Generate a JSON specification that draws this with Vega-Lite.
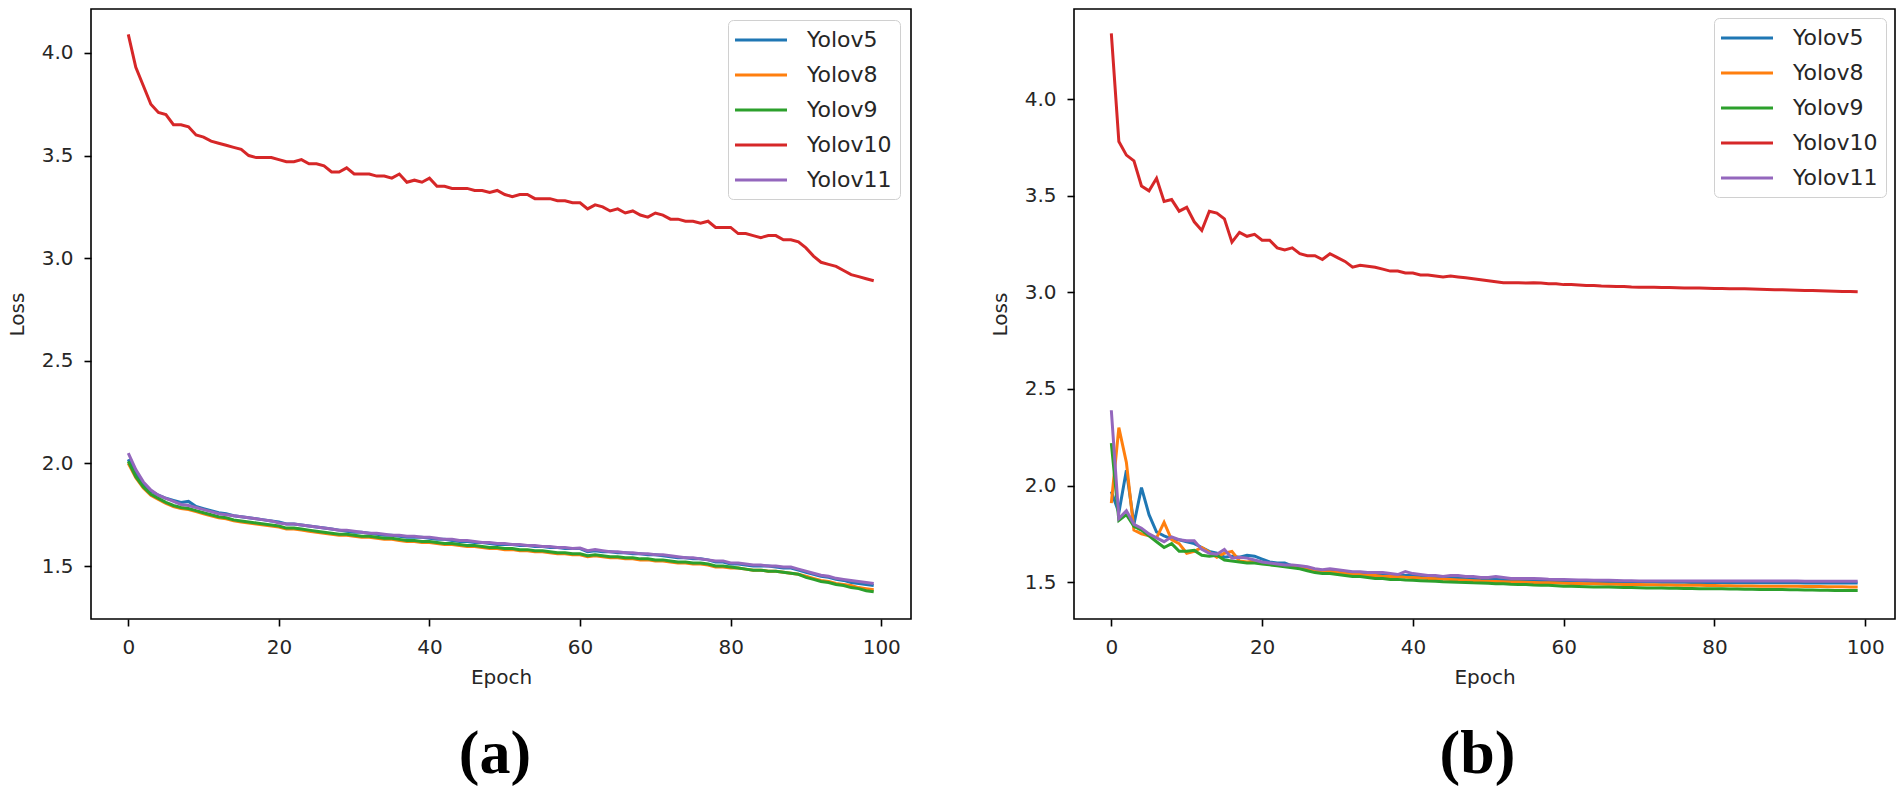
{
"$schema": "https://vega.github.io/schema/vega-lite/v6.json",
"background": "white",
"padding": {"left": 6, "top": 8, "right": 5, "bottom": 5},
"config": {
  "font": "DejaVu Sans",
  "view": {"stroke": "#000", "strokeWidth": 1.6},
  "axis": {"grid": false, "domain": false, "tickColor": "#000", "tickWidth": 1.6, "tickSize": 7, "labelFont": "DejaVu Sans", "labelFontSize": 20, "labelColor": "#262626", "labelPadding": 11, "titleFont": "DejaVu Sans", "titleFontSize": 20, "titleFontWeight": "normal", "titleColor": "#262626"},
  "legend": {"symbolType": "M-1.3,0H3.9", "symbolSize": 400, "symbolStrokeWidth": 3.2, "labelFont": "DejaVu Sans", "labelFontSize": 22, "labelColor": "#262626", "labelOffset": 47, "rowPadding": 12, "padding": 8, "strokeColor": "#d0d0d0", "fillColor": "white", "cornerRadius": 5, "labelLimit": 300}
},
"spacing": 77,
"resolve": {"scale": {"color": "independent"}, "legend": {"color": "independent"}},
"datasets": {
"a": [
{"m":"Yolov5","e":0,"v":2.02},{"m":"Yolov5","e":1,"v":1.95},{"m":"Yolov5","e":2,"v":1.9},{"m":"Yolov5","e":3,"v":1.865},{"m":"Yolov5","e":4,"v":1.845},{"m":"Yolov5","e":5,"v":1.83},{"m":"Yolov5","e":6,"v":1.82},{"m":"Yolov5","e":7,"v":1.81},{"m":"Yolov5","e":8,"v":1.815},{"m":"Yolov5","e":9,"v":1.79},
{"m":"Yolov5","e":10,"v":1.78},{"m":"Yolov5","e":11,"v":1.77},{"m":"Yolov5","e":12,"v":1.76},{"m":"Yolov5","e":13,"v":1.755},{"m":"Yolov5","e":14,"v":1.745},{"m":"Yolov5","e":15,"v":1.74},{"m":"Yolov5","e":16,"v":1.735},{"m":"Yolov5","e":17,"v":1.73},{"m":"Yolov5","e":18,"v":1.725},{"m":"Yolov5","e":19,"v":1.72},
{"m":"Yolov5","e":20,"v":1.715},{"m":"Yolov5","e":21,"v":1.705},{"m":"Yolov5","e":22,"v":1.705},{"m":"Yolov5","e":23,"v":1.7},{"m":"Yolov5","e":24,"v":1.695},{"m":"Yolov5","e":25,"v":1.69},{"m":"Yolov5","e":26,"v":1.685},{"m":"Yolov5","e":27,"v":1.68},{"m":"Yolov5","e":28,"v":1.675},{"m":"Yolov5","e":29,"v":1.67},
{"m":"Yolov5","e":30,"v":1.665},{"m":"Yolov5","e":31,"v":1.665},{"m":"Yolov5","e":32,"v":1.66},{"m":"Yolov5","e":33,"v":1.655},{"m":"Yolov5","e":34,"v":1.65},{"m":"Yolov5","e":35,"v":1.65},{"m":"Yolov5","e":36,"v":1.645},{"m":"Yolov5","e":37,"v":1.64},{"m":"Yolov5","e":38,"v":1.64},{"m":"Yolov5","e":39,"v":1.64},
{"m":"Yolov5","e":40,"v":1.635},{"m":"Yolov5","e":41,"v":1.63},{"m":"Yolov5","e":42,"v":1.63},{"m":"Yolov5","e":43,"v":1.625},{"m":"Yolov5","e":44,"v":1.62},{"m":"Yolov5","e":45,"v":1.62},{"m":"Yolov5","e":46,"v":1.615},{"m":"Yolov5","e":47,"v":1.615},{"m":"Yolov5","e":48,"v":1.61},{"m":"Yolov5","e":49,"v":1.605},
{"m":"Yolov5","e":50,"v":1.605},{"m":"Yolov5","e":51,"v":1.605},{"m":"Yolov5","e":52,"v":1.6},{"m":"Yolov5","e":53,"v":1.6},{"m":"Yolov5","e":54,"v":1.595},{"m":"Yolov5","e":55,"v":1.595},{"m":"Yolov5","e":56,"v":1.59},{"m":"Yolov5","e":57,"v":1.59},{"m":"Yolov5","e":58,"v":1.585},{"m":"Yolov5","e":59,"v":1.585},
{"m":"Yolov5","e":60,"v":1.585},{"m":"Yolov5","e":61,"v":1.57},{"m":"Yolov5","e":62,"v":1.575},{"m":"Yolov5","e":63,"v":1.57},{"m":"Yolov5","e":64,"v":1.57},{"m":"Yolov5","e":65,"v":1.565},{"m":"Yolov5","e":66,"v":1.565},{"m":"Yolov5","e":67,"v":1.56},{"m":"Yolov5","e":68,"v":1.56},{"m":"Yolov5","e":69,"v":1.555},
{"m":"Yolov5","e":70,"v":1.555},{"m":"Yolov5","e":71,"v":1.55},{"m":"Yolov5","e":72,"v":1.545},{"m":"Yolov5","e":73,"v":1.54},{"m":"Yolov5","e":74,"v":1.54},{"m":"Yolov5","e":75,"v":1.535},{"m":"Yolov5","e":76,"v":1.535},{"m":"Yolov5","e":77,"v":1.53},{"m":"Yolov5","e":78,"v":1.52},{"m":"Yolov5","e":79,"v":1.52},
{"m":"Yolov5","e":80,"v":1.51},{"m":"Yolov5","e":81,"v":1.51},{"m":"Yolov5","e":82,"v":1.505},{"m":"Yolov5","e":83,"v":1.5},{"m":"Yolov5","e":84,"v":1.5},{"m":"Yolov5","e":85,"v":1.5},{"m":"Yolov5","e":86,"v":1.495},{"m":"Yolov5","e":87,"v":1.49},{"m":"Yolov5","e":88,"v":1.49},{"m":"Yolov5","e":89,"v":1.48},
{"m":"Yolov5","e":90,"v":1.47},{"m":"Yolov5","e":91,"v":1.46},{"m":"Yolov5","e":92,"v":1.45},{"m":"Yolov5","e":93,"v":1.445},{"m":"Yolov5","e":94,"v":1.435},{"m":"Yolov5","e":95,"v":1.43},{"m":"Yolov5","e":96,"v":1.42},{"m":"Yolov5","e":97,"v":1.415},{"m":"Yolov5","e":98,"v":1.41},{"m":"Yolov5","e":99,"v":1.405},
{"m":"Yolov8","e":0,"v":2.0},{"m":"Yolov8","e":1,"v":1.93},{"m":"Yolov8","e":2,"v":1.88},{"m":"Yolov8","e":3,"v":1.845},{"m":"Yolov8","e":4,"v":1.825},{"m":"Yolov8","e":5,"v":1.805},{"m":"Yolov8","e":6,"v":1.79},{"m":"Yolov8","e":7,"v":1.78},{"m":"Yolov8","e":8,"v":1.775},{"m":"Yolov8","e":9,"v":1.765},
{"m":"Yolov8","e":10,"v":1.755},{"m":"Yolov8","e":11,"v":1.745},{"m":"Yolov8","e":12,"v":1.735},{"m":"Yolov8","e":13,"v":1.73},{"m":"Yolov8","e":14,"v":1.72},{"m":"Yolov8","e":15,"v":1.715},{"m":"Yolov8","e":16,"v":1.71},{"m":"Yolov8","e":17,"v":1.705},{"m":"Yolov8","e":18,"v":1.7},{"m":"Yolov8","e":19,"v":1.695},
{"m":"Yolov8","e":20,"v":1.69},{"m":"Yolov8","e":21,"v":1.68},{"m":"Yolov8","e":22,"v":1.68},{"m":"Yolov8","e":23,"v":1.675},{"m":"Yolov8","e":24,"v":1.67},{"m":"Yolov8","e":25,"v":1.665},{"m":"Yolov8","e":26,"v":1.66},{"m":"Yolov8","e":27,"v":1.655},{"m":"Yolov8","e":28,"v":1.65},{"m":"Yolov8","e":29,"v":1.65},
{"m":"Yolov8","e":30,"v":1.645},{"m":"Yolov8","e":31,"v":1.64},{"m":"Yolov8","e":32,"v":1.64},{"m":"Yolov8","e":33,"v":1.635},{"m":"Yolov8","e":34,"v":1.63},{"m":"Yolov8","e":35,"v":1.63},{"m":"Yolov8","e":36,"v":1.625},{"m":"Yolov8","e":37,"v":1.62},{"m":"Yolov8","e":38,"v":1.62},{"m":"Yolov8","e":39,"v":1.615},
{"m":"Yolov8","e":40,"v":1.615},{"m":"Yolov8","e":41,"v":1.61},{"m":"Yolov8","e":42,"v":1.605},{"m":"Yolov8","e":43,"v":1.605},{"m":"Yolov8","e":44,"v":1.6},{"m":"Yolov8","e":45,"v":1.595},{"m":"Yolov8","e":46,"v":1.595},{"m":"Yolov8","e":47,"v":1.59},{"m":"Yolov8","e":48,"v":1.585},{"m":"Yolov8","e":49,"v":1.585},
{"m":"Yolov8","e":50,"v":1.58},{"m":"Yolov8","e":51,"v":1.58},{"m":"Yolov8","e":52,"v":1.575},{"m":"Yolov8","e":53,"v":1.575},{"m":"Yolov8","e":54,"v":1.57},{"m":"Yolov8","e":55,"v":1.57},{"m":"Yolov8","e":56,"v":1.565},{"m":"Yolov8","e":57,"v":1.56},{"m":"Yolov8","e":58,"v":1.56},{"m":"Yolov8","e":59,"v":1.555},
{"m":"Yolov8","e":60,"v":1.555},{"m":"Yolov8","e":61,"v":1.545},{"m":"Yolov8","e":62,"v":1.55},{"m":"Yolov8","e":63,"v":1.545},{"m":"Yolov8","e":64,"v":1.54},{"m":"Yolov8","e":65,"v":1.54},{"m":"Yolov8","e":66,"v":1.535},{"m":"Yolov8","e":67,"v":1.535},{"m":"Yolov8","e":68,"v":1.53},{"m":"Yolov8","e":69,"v":1.53},
{"m":"Yolov8","e":70,"v":1.525},{"m":"Yolov8","e":71,"v":1.525},{"m":"Yolov8","e":72,"v":1.52},{"m":"Yolov8","e":73,"v":1.515},{"m":"Yolov8","e":74,"v":1.515},{"m":"Yolov8","e":75,"v":1.51},{"m":"Yolov8","e":76,"v":1.51},{"m":"Yolov8","e":77,"v":1.505},{"m":"Yolov8","e":78,"v":1.495},{"m":"Yolov8","e":79,"v":1.495},
{"m":"Yolov8","e":80,"v":1.49},{"m":"Yolov8","e":81,"v":1.49},{"m":"Yolov8","e":82,"v":1.485},{"m":"Yolov8","e":83,"v":1.48},{"m":"Yolov8","e":84,"v":1.48},{"m":"Yolov8","e":85,"v":1.475},{"m":"Yolov8","e":86,"v":1.475},{"m":"Yolov8","e":87,"v":1.47},{"m":"Yolov8","e":88,"v":1.465},{"m":"Yolov8","e":89,"v":1.46},
{"m":"Yolov8","e":90,"v":1.45},{"m":"Yolov8","e":91,"v":1.44},{"m":"Yolov8","e":92,"v":1.43},{"m":"Yolov8","e":93,"v":1.425},{"m":"Yolov8","e":94,"v":1.415},{"m":"Yolov8","e":95,"v":1.41},{"m":"Yolov8","e":96,"v":1.405},{"m":"Yolov8","e":97,"v":1.395},{"m":"Yolov8","e":98,"v":1.39},{"m":"Yolov8","e":99,"v":1.385},
{"m":"Yolov9","e":0,"v":2.01},{"m":"Yolov9","e":1,"v":1.935},{"m":"Yolov9","e":2,"v":1.885},{"m":"Yolov9","e":3,"v":1.85},{"m":"Yolov9","e":4,"v":1.83},{"m":"Yolov9","e":5,"v":1.81},{"m":"Yolov9","e":6,"v":1.795},{"m":"Yolov9","e":7,"v":1.785},{"m":"Yolov9","e":8,"v":1.78},{"m":"Yolov9","e":9,"v":1.77},
{"m":"Yolov9","e":10,"v":1.76},{"m":"Yolov9","e":11,"v":1.75},{"m":"Yolov9","e":12,"v":1.74},{"m":"Yolov9","e":13,"v":1.735},{"m":"Yolov9","e":14,"v":1.725},{"m":"Yolov9","e":15,"v":1.72},{"m":"Yolov9","e":16,"v":1.715},{"m":"Yolov9","e":17,"v":1.71},{"m":"Yolov9","e":18,"v":1.705},{"m":"Yolov9","e":19,"v":1.7},
{"m":"Yolov9","e":20,"v":1.695},{"m":"Yolov9","e":21,"v":1.685},{"m":"Yolov9","e":22,"v":1.685},{"m":"Yolov9","e":23,"v":1.68},{"m":"Yolov9","e":24,"v":1.675},{"m":"Yolov9","e":25,"v":1.67},{"m":"Yolov9","e":26,"v":1.665},{"m":"Yolov9","e":27,"v":1.66},{"m":"Yolov9","e":28,"v":1.655},{"m":"Yolov9","e":29,"v":1.655},
{"m":"Yolov9","e":30,"v":1.65},{"m":"Yolov9","e":31,"v":1.645},{"m":"Yolov9","e":32,"v":1.645},{"m":"Yolov9","e":33,"v":1.64},{"m":"Yolov9","e":34,"v":1.635},{"m":"Yolov9","e":35,"v":1.635},{"m":"Yolov9","e":36,"v":1.63},{"m":"Yolov9","e":37,"v":1.625},{"m":"Yolov9","e":38,"v":1.625},{"m":"Yolov9","e":39,"v":1.62},
{"m":"Yolov9","e":40,"v":1.62},{"m":"Yolov9","e":41,"v":1.615},{"m":"Yolov9","e":42,"v":1.61},{"m":"Yolov9","e":43,"v":1.61},{"m":"Yolov9","e":44,"v":1.605},{"m":"Yolov9","e":45,"v":1.6},{"m":"Yolov9","e":46,"v":1.6},{"m":"Yolov9","e":47,"v":1.595},{"m":"Yolov9","e":48,"v":1.59},{"m":"Yolov9","e":49,"v":1.59},
{"m":"Yolov9","e":50,"v":1.585},{"m":"Yolov9","e":51,"v":1.585},{"m":"Yolov9","e":52,"v":1.58},{"m":"Yolov9","e":53,"v":1.58},{"m":"Yolov9","e":54,"v":1.575},{"m":"Yolov9","e":55,"v":1.575},{"m":"Yolov9","e":56,"v":1.57},{"m":"Yolov9","e":57,"v":1.565},{"m":"Yolov9","e":58,"v":1.565},{"m":"Yolov9","e":59,"v":1.56},
{"m":"Yolov9","e":60,"v":1.56},{"m":"Yolov9","e":61,"v":1.55},{"m":"Yolov9","e":62,"v":1.555},{"m":"Yolov9","e":63,"v":1.55},{"m":"Yolov9","e":64,"v":1.545},{"m":"Yolov9","e":65,"v":1.545},{"m":"Yolov9","e":66,"v":1.54},{"m":"Yolov9","e":67,"v":1.54},{"m":"Yolov9","e":68,"v":1.535},{"m":"Yolov9","e":69,"v":1.535},
{"m":"Yolov9","e":70,"v":1.53},{"m":"Yolov9","e":71,"v":1.53},{"m":"Yolov9","e":72,"v":1.525},{"m":"Yolov9","e":73,"v":1.52},{"m":"Yolov9","e":74,"v":1.52},{"m":"Yolov9","e":75,"v":1.515},{"m":"Yolov9","e":76,"v":1.515},{"m":"Yolov9","e":77,"v":1.51},{"m":"Yolov9","e":78,"v":1.5},{"m":"Yolov9","e":79,"v":1.5},
{"m":"Yolov9","e":80,"v":1.495},{"m":"Yolov9","e":81,"v":1.49},{"m":"Yolov9","e":82,"v":1.485},{"m":"Yolov9","e":83,"v":1.48},{"m":"Yolov9","e":84,"v":1.48},{"m":"Yolov9","e":85,"v":1.475},{"m":"Yolov9","e":86,"v":1.475},{"m":"Yolov9","e":87,"v":1.47},{"m":"Yolov9","e":88,"v":1.465},{"m":"Yolov9","e":89,"v":1.46},
{"m":"Yolov9","e":90,"v":1.445},{"m":"Yolov9","e":91,"v":1.435},{"m":"Yolov9","e":92,"v":1.425},{"m":"Yolov9","e":93,"v":1.42},{"m":"Yolov9","e":94,"v":1.41},{"m":"Yolov9","e":95,"v":1.405},{"m":"Yolov9","e":96,"v":1.395},{"m":"Yolov9","e":97,"v":1.39},{"m":"Yolov9","e":98,"v":1.38},{"m":"Yolov9","e":99,"v":1.375},
{"m":"Yolov10","e":0,"v":4.09},{"m":"Yolov10","e":1,"v":3.93},{"m":"Yolov10","e":2,"v":3.84},{"m":"Yolov10","e":3,"v":3.75},{"m":"Yolov10","e":4,"v":3.71},{"m":"Yolov10","e":5,"v":3.7},{"m":"Yolov10","e":6,"v":3.65},{"m":"Yolov10","e":7,"v":3.65},{"m":"Yolov10","e":8,"v":3.64},{"m":"Yolov10","e":9,"v":3.6},
{"m":"Yolov10","e":10,"v":3.59},{"m":"Yolov10","e":11,"v":3.57},{"m":"Yolov10","e":12,"v":3.56},{"m":"Yolov10","e":13,"v":3.55},{"m":"Yolov10","e":14,"v":3.54},{"m":"Yolov10","e":15,"v":3.53},{"m":"Yolov10","e":16,"v":3.5},{"m":"Yolov10","e":17,"v":3.49},{"m":"Yolov10","e":18,"v":3.49},{"m":"Yolov10","e":19,"v":3.49},
{"m":"Yolov10","e":20,"v":3.48},{"m":"Yolov10","e":21,"v":3.47},{"m":"Yolov10","e":22,"v":3.47},{"m":"Yolov10","e":23,"v":3.48},{"m":"Yolov10","e":24,"v":3.46},{"m":"Yolov10","e":25,"v":3.46},{"m":"Yolov10","e":26,"v":3.45},{"m":"Yolov10","e":27,"v":3.42},{"m":"Yolov10","e":28,"v":3.42},{"m":"Yolov10","e":29,"v":3.44},
{"m":"Yolov10","e":30,"v":3.41},{"m":"Yolov10","e":31,"v":3.41},{"m":"Yolov10","e":32,"v":3.41},{"m":"Yolov10","e":33,"v":3.4},{"m":"Yolov10","e":34,"v":3.4},{"m":"Yolov10","e":35,"v":3.39},{"m":"Yolov10","e":36,"v":3.41},{"m":"Yolov10","e":37,"v":3.37},{"m":"Yolov10","e":38,"v":3.38},{"m":"Yolov10","e":39,"v":3.37},
{"m":"Yolov10","e":40,"v":3.39},{"m":"Yolov10","e":41,"v":3.35},{"m":"Yolov10","e":42,"v":3.35},{"m":"Yolov10","e":43,"v":3.34},{"m":"Yolov10","e":44,"v":3.34},{"m":"Yolov10","e":45,"v":3.34},{"m":"Yolov10","e":46,"v":3.33},{"m":"Yolov10","e":47,"v":3.33},{"m":"Yolov10","e":48,"v":3.32},{"m":"Yolov10","e":49,"v":3.33},
{"m":"Yolov10","e":50,"v":3.31},{"m":"Yolov10","e":51,"v":3.3},{"m":"Yolov10","e":52,"v":3.31},{"m":"Yolov10","e":53,"v":3.31},{"m":"Yolov10","e":54,"v":3.29},{"m":"Yolov10","e":55,"v":3.29},{"m":"Yolov10","e":56,"v":3.29},{"m":"Yolov10","e":57,"v":3.28},{"m":"Yolov10","e":58,"v":3.28},{"m":"Yolov10","e":59,"v":3.27},
{"m":"Yolov10","e":60,"v":3.27},{"m":"Yolov10","e":61,"v":3.24},{"m":"Yolov10","e":62,"v":3.26},{"m":"Yolov10","e":63,"v":3.25},{"m":"Yolov10","e":64,"v":3.23},{"m":"Yolov10","e":65,"v":3.24},{"m":"Yolov10","e":66,"v":3.22},{"m":"Yolov10","e":67,"v":3.23},{"m":"Yolov10","e":68,"v":3.21},{"m":"Yolov10","e":69,"v":3.2},
{"m":"Yolov10","e":70,"v":3.22},{"m":"Yolov10","e":71,"v":3.21},{"m":"Yolov10","e":72,"v":3.19},{"m":"Yolov10","e":73,"v":3.19},{"m":"Yolov10","e":74,"v":3.18},{"m":"Yolov10","e":75,"v":3.18},{"m":"Yolov10","e":76,"v":3.17},{"m":"Yolov10","e":77,"v":3.18},{"m":"Yolov10","e":78,"v":3.15},{"m":"Yolov10","e":79,"v":3.15},
{"m":"Yolov10","e":80,"v":3.15},{"m":"Yolov10","e":81,"v":3.12},{"m":"Yolov10","e":82,"v":3.12},{"m":"Yolov10","e":83,"v":3.11},{"m":"Yolov10","e":84,"v":3.1},{"m":"Yolov10","e":85,"v":3.11},{"m":"Yolov10","e":86,"v":3.11},{"m":"Yolov10","e":87,"v":3.09},{"m":"Yolov10","e":88,"v":3.09},{"m":"Yolov10","e":89,"v":3.08},
{"m":"Yolov10","e":90,"v":3.05},{"m":"Yolov10","e":91,"v":3.01},{"m":"Yolov10","e":92,"v":2.98},{"m":"Yolov10","e":93,"v":2.97},{"m":"Yolov10","e":94,"v":2.96},{"m":"Yolov10","e":95,"v":2.94},{"m":"Yolov10","e":96,"v":2.92},{"m":"Yolov10","e":97,"v":2.91},{"m":"Yolov10","e":98,"v":2.9},{"m":"Yolov10","e":99,"v":2.89},
{"m":"Yolov11","e":0,"v":2.05},{"m":"Yolov11","e":1,"v":1.97},{"m":"Yolov11","e":2,"v":1.91},{"m":"Yolov11","e":3,"v":1.87},{"m":"Yolov11","e":4,"v":1.845},{"m":"Yolov11","e":5,"v":1.83},{"m":"Yolov11","e":6,"v":1.815},{"m":"Yolov11","e":7,"v":1.8},{"m":"Yolov11","e":8,"v":1.795},{"m":"Yolov11","e":9,"v":1.785},
{"m":"Yolov11","e":10,"v":1.775},{"m":"Yolov11","e":11,"v":1.765},{"m":"Yolov11","e":12,"v":1.755},{"m":"Yolov11","e":13,"v":1.75},{"m":"Yolov11","e":14,"v":1.745},{"m":"Yolov11","e":15,"v":1.74},{"m":"Yolov11","e":16,"v":1.735},{"m":"Yolov11","e":17,"v":1.73},{"m":"Yolov11","e":18,"v":1.725},{"m":"Yolov11","e":19,"v":1.72},
{"m":"Yolov11","e":20,"v":1.71},{"m":"Yolov11","e":21,"v":1.705},{"m":"Yolov11","e":22,"v":1.705},{"m":"Yolov11","e":23,"v":1.7},{"m":"Yolov11","e":24,"v":1.695},{"m":"Yolov11","e":25,"v":1.69},{"m":"Yolov11","e":26,"v":1.685},{"m":"Yolov11","e":27,"v":1.68},{"m":"Yolov11","e":28,"v":1.675},{"m":"Yolov11","e":29,"v":1.675},
{"m":"Yolov11","e":30,"v":1.67},{"m":"Yolov11","e":31,"v":1.665},{"m":"Yolov11","e":32,"v":1.66},{"m":"Yolov11","e":33,"v":1.66},{"m":"Yolov11","e":34,"v":1.655},{"m":"Yolov11","e":35,"v":1.65},{"m":"Yolov11","e":36,"v":1.65},{"m":"Yolov11","e":37,"v":1.645},{"m":"Yolov11","e":38,"v":1.645},{"m":"Yolov11","e":39,"v":1.64},
{"m":"Yolov11","e":40,"v":1.64},{"m":"Yolov11","e":41,"v":1.635},{"m":"Yolov11","e":42,"v":1.63},{"m":"Yolov11","e":43,"v":1.63},{"m":"Yolov11","e":44,"v":1.625},{"m":"Yolov11","e":45,"v":1.625},{"m":"Yolov11","e":46,"v":1.62},{"m":"Yolov11","e":47,"v":1.615},{"m":"Yolov11","e":48,"v":1.615},{"m":"Yolov11","e":49,"v":1.61},
{"m":"Yolov11","e":50,"v":1.61},{"m":"Yolov11","e":51,"v":1.605},{"m":"Yolov11","e":52,"v":1.605},{"m":"Yolov11","e":53,"v":1.6},{"m":"Yolov11","e":54,"v":1.6},{"m":"Yolov11","e":55,"v":1.595},{"m":"Yolov11","e":56,"v":1.595},{"m":"Yolov11","e":57,"v":1.59},{"m":"Yolov11","e":58,"v":1.59},{"m":"Yolov11","e":59,"v":1.585},
{"m":"Yolov11","e":60,"v":1.588},{"m":"Yolov11","e":61,"v":1.575},{"m":"Yolov11","e":62,"v":1.58},{"m":"Yolov11","e":63,"v":1.575},{"m":"Yolov11","e":64,"v":1.57},{"m":"Yolov11","e":65,"v":1.57},{"m":"Yolov11","e":66,"v":1.565},{"m":"Yolov11","e":67,"v":1.565},{"m":"Yolov11","e":68,"v":1.56},{"m":"Yolov11","e":69,"v":1.56},
{"m":"Yolov11","e":70,"v":1.555},{"m":"Yolov11","e":71,"v":1.555},{"m":"Yolov11","e":72,"v":1.55},{"m":"Yolov11","e":73,"v":1.545},{"m":"Yolov11","e":74,"v":1.54},{"m":"Yolov11","e":75,"v":1.54},{"m":"Yolov11","e":76,"v":1.535},{"m":"Yolov11","e":77,"v":1.53},{"m":"Yolov11","e":78,"v":1.525},{"m":"Yolov11","e":79,"v":1.525},
{"m":"Yolov11","e":80,"v":1.515},{"m":"Yolov11","e":81,"v":1.515},{"m":"Yolov11","e":82,"v":1.51},{"m":"Yolov11","e":83,"v":1.505},{"m":"Yolov11","e":84,"v":1.505},{"m":"Yolov11","e":85,"v":1.5},{"m":"Yolov11","e":86,"v":1.5},{"m":"Yolov11","e":87,"v":1.495},{"m":"Yolov11","e":88,"v":1.495},{"m":"Yolov11","e":89,"v":1.485},
{"m":"Yolov11","e":90,"v":1.475},{"m":"Yolov11","e":91,"v":1.465},{"m":"Yolov11","e":92,"v":1.455},{"m":"Yolov11","e":93,"v":1.45},{"m":"Yolov11","e":94,"v":1.44},{"m":"Yolov11","e":95,"v":1.435},{"m":"Yolov11","e":96,"v":1.43},{"m":"Yolov11","e":97,"v":1.425},{"m":"Yolov11","e":98,"v":1.42},{"m":"Yolov11","e":99,"v":1.415}
],
"b": [
{"m":"Yolov5","e":0,"v":1.97},{"m":"Yolov5","e":1,"v":1.86},{"m":"Yolov5","e":2,"v":2.08},{"m":"Yolov5","e":3,"v":1.8},{"m":"Yolov5","e":4,"v":1.99},{"m":"Yolov5","e":5,"v":1.85},{"m":"Yolov5","e":6,"v":1.76},{"m":"Yolov5","e":7,"v":1.74},{"m":"Yolov5","e":8,"v":1.725},{"m":"Yolov5","e":9,"v":1.72},
{"m":"Yolov5","e":10,"v":1.71},{"m":"Yolov5","e":11,"v":1.7},{"m":"Yolov5","e":12,"v":1.68},{"m":"Yolov5","e":13,"v":1.66},{"m":"Yolov5","e":14,"v":1.65},{"m":"Yolov5","e":15,"v":1.63},{"m":"Yolov5","e":16,"v":1.635},{"m":"Yolov5","e":17,"v":1.63},{"m":"Yolov5","e":18,"v":1.64},{"m":"Yolov5","e":19,"v":1.635},
{"m":"Yolov5","e":20,"v":1.62},{"m":"Yolov5","e":21,"v":1.605},{"m":"Yolov5","e":22,"v":1.6},{"m":"Yolov5","e":23,"v":1.6},{"m":"Yolov5","e":24,"v":1.585},{"m":"Yolov5","e":25,"v":1.58},{"m":"Yolov5","e":26,"v":1.575},{"m":"Yolov5","e":27,"v":1.565},{"m":"Yolov5","e":28,"v":1.56},{"m":"Yolov5","e":29,"v":1.565},
{"m":"Yolov5","e":30,"v":1.555},{"m":"Yolov5","e":31,"v":1.55},{"m":"Yolov5","e":32,"v":1.55},{"m":"Yolov5","e":33,"v":1.545},{"m":"Yolov5","e":34,"v":1.545},{"m":"Yolov5","e":35,"v":1.54},{"m":"Yolov5","e":36,"v":1.54},{"m":"Yolov5","e":37,"v":1.535},{"m":"Yolov5","e":38,"v":1.535},{"m":"Yolov5","e":39,"v":1.535},
{"m":"Yolov5","e":40,"v":1.535},{"m":"Yolov5","e":41,"v":1.53},{"m":"Yolov5","e":42,"v":1.528},{"m":"Yolov5","e":43,"v":1.526},{"m":"Yolov5","e":44,"v":1.524},{"m":"Yolov5","e":45,"v":1.522},{"m":"Yolov5","e":46,"v":1.52},{"m":"Yolov5","e":47,"v":1.519},{"m":"Yolov5","e":48,"v":1.518},{"m":"Yolov5","e":49,"v":1.516},
{"m":"Yolov5","e":50,"v":1.515},{"m":"Yolov5","e":51,"v":1.514},{"m":"Yolov5","e":52,"v":1.513},{"m":"Yolov5","e":53,"v":1.512},{"m":"Yolov5","e":54,"v":1.511},{"m":"Yolov5","e":55,"v":1.51},{"m":"Yolov5","e":56,"v":1.509},{"m":"Yolov5","e":57,"v":1.509},{"m":"Yolov5","e":58,"v":1.508},{"m":"Yolov5","e":59,"v":1.508},
{"m":"Yolov5","e":60,"v":1.507},{"m":"Yolov5","e":61,"v":1.506},{"m":"Yolov5","e":62,"v":1.506},{"m":"Yolov5","e":63,"v":1.505},{"m":"Yolov5","e":64,"v":1.504},{"m":"Yolov5","e":65,"v":1.504},{"m":"Yolov5","e":66,"v":1.503},{"m":"Yolov5","e":67,"v":1.503},{"m":"Yolov5","e":68,"v":1.502},{"m":"Yolov5","e":69,"v":1.502},
{"m":"Yolov5","e":70,"v":1.502},{"m":"Yolov5","e":71,"v":1.501},{"m":"Yolov5","e":72,"v":1.501},{"m":"Yolov5","e":73,"v":1.5},{"m":"Yolov5","e":74,"v":1.5},{"m":"Yolov5","e":75,"v":1.5},{"m":"Yolov5","e":76,"v":1.5},{"m":"Yolov5","e":77,"v":1.499},{"m":"Yolov5","e":78,"v":1.499},{"m":"Yolov5","e":79,"v":1.499},
{"m":"Yolov5","e":80,"v":1.499},{"m":"Yolov5","e":81,"v":1.499},{"m":"Yolov5","e":82,"v":1.498},{"m":"Yolov5","e":83,"v":1.498},{"m":"Yolov5","e":84,"v":1.498},{"m":"Yolov5","e":85,"v":1.498},{"m":"Yolov5","e":86,"v":1.497},{"m":"Yolov5","e":87,"v":1.497},{"m":"Yolov5","e":88,"v":1.497},{"m":"Yolov5","e":89,"v":1.497},
{"m":"Yolov5","e":90,"v":1.497},{"m":"Yolov5","e":91,"v":1.497},{"m":"Yolov5","e":92,"v":1.496},{"m":"Yolov5","e":93,"v":1.496},{"m":"Yolov5","e":94,"v":1.496},{"m":"Yolov5","e":95,"v":1.496},{"m":"Yolov5","e":96,"v":1.496},{"m":"Yolov5","e":97,"v":1.496},{"m":"Yolov5","e":98,"v":1.496},{"m":"Yolov5","e":99,"v":1.496},
{"m":"Yolov8","e":0,"v":1.91},{"m":"Yolov8","e":1,"v":2.3},{"m":"Yolov8","e":2,"v":2.12},{"m":"Yolov8","e":3,"v":1.77},{"m":"Yolov8","e":4,"v":1.75},{"m":"Yolov8","e":5,"v":1.74},{"m":"Yolov8","e":6,"v":1.73},{"m":"Yolov8","e":7,"v":1.81},{"m":"Yolov8","e":8,"v":1.72},{"m":"Yolov8","e":9,"v":1.7},
{"m":"Yolov8","e":10,"v":1.65},{"m":"Yolov8","e":11,"v":1.66},{"m":"Yolov8","e":12,"v":1.68},{"m":"Yolov8","e":13,"v":1.655},{"m":"Yolov8","e":14,"v":1.63},{"m":"Yolov8","e":15,"v":1.65},{"m":"Yolov8","e":16,"v":1.66},{"m":"Yolov8","e":17,"v":1.61},{"m":"Yolov8","e":18,"v":1.605},{"m":"Yolov8","e":19,"v":1.61},
{"m":"Yolov8","e":20,"v":1.6},{"m":"Yolov8","e":21,"v":1.595},{"m":"Yolov8","e":22,"v":1.59},{"m":"Yolov8","e":23,"v":1.585},{"m":"Yolov8","e":24,"v":1.58},{"m":"Yolov8","e":25,"v":1.575},{"m":"Yolov8","e":26,"v":1.57},{"m":"Yolov8","e":27,"v":1.56},{"m":"Yolov8","e":28,"v":1.555},{"m":"Yolov8","e":29,"v":1.555},
{"m":"Yolov8","e":30,"v":1.55},{"m":"Yolov8","e":31,"v":1.545},{"m":"Yolov8","e":32,"v":1.54},{"m":"Yolov8","e":33,"v":1.54},{"m":"Yolov8","e":34,"v":1.535},{"m":"Yolov8","e":35,"v":1.535},{"m":"Yolov8","e":36,"v":1.53},{"m":"Yolov8","e":37,"v":1.53},{"m":"Yolov8","e":38,"v":1.528},{"m":"Yolov8","e":39,"v":1.526},
{"m":"Yolov8","e":40,"v":1.525},{"m":"Yolov8","e":41,"v":1.522},{"m":"Yolov8","e":42,"v":1.52},{"m":"Yolov8","e":43,"v":1.518},{"m":"Yolov8","e":44,"v":1.516},{"m":"Yolov8","e":45,"v":1.514},{"m":"Yolov8","e":46,"v":1.512},{"m":"Yolov8","e":47,"v":1.51},{"m":"Yolov8","e":48,"v":1.508},{"m":"Yolov8","e":49,"v":1.506},
{"m":"Yolov8","e":50,"v":1.505},{"m":"Yolov8","e":51,"v":1.504},{"m":"Yolov8","e":52,"v":1.503},{"m":"Yolov8","e":53,"v":1.502},{"m":"Yolov8","e":54,"v":1.501},{"m":"Yolov8","e":55,"v":1.5},{"m":"Yolov8","e":56,"v":1.499},{"m":"Yolov8","e":57,"v":1.498},{"m":"Yolov8","e":58,"v":1.497},{"m":"Yolov8","e":59,"v":1.496},
{"m":"Yolov8","e":60,"v":1.495},{"m":"Yolov8","e":61,"v":1.494},{"m":"Yolov8","e":62,"v":1.494},{"m":"Yolov8","e":63,"v":1.493},{"m":"Yolov8","e":64,"v":1.492},{"m":"Yolov8","e":65,"v":1.491},{"m":"Yolov8","e":66,"v":1.49},{"m":"Yolov8","e":67,"v":1.49},{"m":"Yolov8","e":68,"v":1.489},{"m":"Yolov8","e":69,"v":1.488},
{"m":"Yolov8","e":70,"v":1.488},{"m":"Yolov8","e":71,"v":1.487},{"m":"Yolov8","e":72,"v":1.487},{"m":"Yolov8","e":73,"v":1.486},{"m":"Yolov8","e":74,"v":1.486},{"m":"Yolov8","e":75,"v":1.485},{"m":"Yolov8","e":76,"v":1.485},{"m":"Yolov8","e":77,"v":1.484},{"m":"Yolov8","e":78,"v":1.484},{"m":"Yolov8","e":79,"v":1.483},
{"m":"Yolov8","e":80,"v":1.483},{"m":"Yolov8","e":81,"v":1.482},{"m":"Yolov8","e":82,"v":1.482},{"m":"Yolov8","e":83,"v":1.481},{"m":"Yolov8","e":84,"v":1.481},{"m":"Yolov8","e":85,"v":1.481},{"m":"Yolov8","e":86,"v":1.48},{"m":"Yolov8","e":87,"v":1.48},{"m":"Yolov8","e":88,"v":1.48},{"m":"Yolov8","e":89,"v":1.479},
{"m":"Yolov8","e":90,"v":1.479},{"m":"Yolov8","e":91,"v":1.479},{"m":"Yolov8","e":92,"v":1.478},{"m":"Yolov8","e":93,"v":1.478},{"m":"Yolov8","e":94,"v":1.478},{"m":"Yolov8","e":95,"v":1.477},{"m":"Yolov8","e":96,"v":1.477},{"m":"Yolov8","e":97,"v":1.477},{"m":"Yolov8","e":98,"v":1.476},{"m":"Yolov8","e":99,"v":1.476},
{"m":"Yolov9","e":0,"v":2.22},{"m":"Yolov9","e":1,"v":1.82},{"m":"Yolov9","e":2,"v":1.85},{"m":"Yolov9","e":3,"v":1.79},{"m":"Yolov9","e":4,"v":1.77},{"m":"Yolov9","e":5,"v":1.74},{"m":"Yolov9","e":6,"v":1.71},{"m":"Yolov9","e":7,"v":1.68},{"m":"Yolov9","e":8,"v":1.7},{"m":"Yolov9","e":9,"v":1.66},
{"m":"Yolov9","e":10,"v":1.66},{"m":"Yolov9","e":11,"v":1.665},{"m":"Yolov9","e":12,"v":1.64},{"m":"Yolov9","e":13,"v":1.635},{"m":"Yolov9","e":14,"v":1.64},{"m":"Yolov9","e":15,"v":1.615},{"m":"Yolov9","e":16,"v":1.61},{"m":"Yolov9","e":17,"v":1.605},{"m":"Yolov9","e":18,"v":1.6},{"m":"Yolov9","e":19,"v":1.6},
{"m":"Yolov9","e":20,"v":1.595},{"m":"Yolov9","e":21,"v":1.59},{"m":"Yolov9","e":22,"v":1.585},{"m":"Yolov9","e":23,"v":1.58},{"m":"Yolov9","e":24,"v":1.575},{"m":"Yolov9","e":25,"v":1.57},{"m":"Yolov9","e":26,"v":1.56},{"m":"Yolov9","e":27,"v":1.55},{"m":"Yolov9","e":28,"v":1.545},{"m":"Yolov9","e":29,"v":1.545},
{"m":"Yolov9","e":30,"v":1.54},{"m":"Yolov9","e":31,"v":1.535},{"m":"Yolov9","e":32,"v":1.53},{"m":"Yolov9","e":33,"v":1.53},{"m":"Yolov9","e":34,"v":1.525},{"m":"Yolov9","e":35,"v":1.52},{"m":"Yolov9","e":36,"v":1.52},{"m":"Yolov9","e":37,"v":1.515},{"m":"Yolov9","e":38,"v":1.515},{"m":"Yolov9","e":39,"v":1.512},
{"m":"Yolov9","e":40,"v":1.51},{"m":"Yolov9","e":41,"v":1.508},{"m":"Yolov9","e":42,"v":1.506},{"m":"Yolov9","e":43,"v":1.505},{"m":"Yolov9","e":44,"v":1.503},{"m":"Yolov9","e":45,"v":1.502},{"m":"Yolov9","e":46,"v":1.5},{"m":"Yolov9","e":47,"v":1.499},{"m":"Yolov9","e":48,"v":1.497},{"m":"Yolov9","e":49,"v":1.496},
{"m":"Yolov9","e":50,"v":1.495},{"m":"Yolov9","e":51,"v":1.493},{"m":"Yolov9","e":52,"v":1.492},{"m":"Yolov9","e":53,"v":1.49},{"m":"Yolov9","e":54,"v":1.489},{"m":"Yolov9","e":55,"v":1.488},{"m":"Yolov9","e":56,"v":1.486},{"m":"Yolov9","e":57,"v":1.485},{"m":"Yolov9","e":58,"v":1.484},{"m":"Yolov9","e":59,"v":1.482},
{"m":"Yolov9","e":60,"v":1.48},{"m":"Yolov9","e":61,"v":1.479},{"m":"Yolov9","e":62,"v":1.478},{"m":"Yolov9","e":63,"v":1.477},{"m":"Yolov9","e":64,"v":1.476},{"m":"Yolov9","e":65,"v":1.476},{"m":"Yolov9","e":66,"v":1.475},{"m":"Yolov9","e":67,"v":1.474},{"m":"Yolov9","e":68,"v":1.473},{"m":"Yolov9","e":69,"v":1.473},
{"m":"Yolov9","e":70,"v":1.472},{"m":"Yolov9","e":71,"v":1.471},{"m":"Yolov9","e":72,"v":1.471},{"m":"Yolov9","e":73,"v":1.47},{"m":"Yolov9","e":74,"v":1.469},{"m":"Yolov9","e":75,"v":1.469},{"m":"Yolov9","e":76,"v":1.468},{"m":"Yolov9","e":77,"v":1.468},{"m":"Yolov9","e":78,"v":1.467},{"m":"Yolov9","e":79,"v":1.467},
{"m":"Yolov9","e":80,"v":1.466},{"m":"Yolov9","e":81,"v":1.466},{"m":"Yolov9","e":82,"v":1.465},{"m":"Yolov9","e":83,"v":1.465},{"m":"Yolov9","e":84,"v":1.464},{"m":"Yolov9","e":85,"v":1.464},{"m":"Yolov9","e":86,"v":1.463},{"m":"Yolov9","e":87,"v":1.463},{"m":"Yolov9","e":88,"v":1.462},{"m":"Yolov9","e":89,"v":1.462},
{"m":"Yolov9","e":90,"v":1.461},{"m":"Yolov9","e":91,"v":1.461},{"m":"Yolov9","e":92,"v":1.46},{"m":"Yolov9","e":93,"v":1.46},{"m":"Yolov9","e":94,"v":1.459},{"m":"Yolov9","e":95,"v":1.459},{"m":"Yolov9","e":96,"v":1.458},{"m":"Yolov9","e":97,"v":1.458},{"m":"Yolov9","e":98,"v":1.457},{"m":"Yolov9","e":99,"v":1.457},
{"m":"Yolov10","e":0,"v":4.34},{"m":"Yolov10","e":1,"v":3.78},{"m":"Yolov10","e":2,"v":3.71},{"m":"Yolov10","e":3,"v":3.68},{"m":"Yolov10","e":4,"v":3.55},{"m":"Yolov10","e":5,"v":3.525},{"m":"Yolov10","e":6,"v":3.59},{"m":"Yolov10","e":7,"v":3.47},{"m":"Yolov10","e":8,"v":3.48},{"m":"Yolov10","e":9,"v":3.42},
{"m":"Yolov10","e":10,"v":3.44},{"m":"Yolov10","e":11,"v":3.365},{"m":"Yolov10","e":12,"v":3.32},{"m":"Yolov10","e":13,"v":3.42},{"m":"Yolov10","e":14,"v":3.41},{"m":"Yolov10","e":15,"v":3.38},{"m":"Yolov10","e":16,"v":3.26},{"m":"Yolov10","e":17,"v":3.31},{"m":"Yolov10","e":18,"v":3.29},{"m":"Yolov10","e":19,"v":3.3},
{"m":"Yolov10","e":20,"v":3.27},{"m":"Yolov10","e":21,"v":3.27},{"m":"Yolov10","e":22,"v":3.23},{"m":"Yolov10","e":23,"v":3.22},{"m":"Yolov10","e":24,"v":3.23},{"m":"Yolov10","e":25,"v":3.2},{"m":"Yolov10","e":26,"v":3.19},{"m":"Yolov10","e":27,"v":3.19},{"m":"Yolov10","e":28,"v":3.17},{"m":"Yolov10","e":29,"v":3.2},
{"m":"Yolov10","e":30,"v":3.18},{"m":"Yolov10","e":31,"v":3.16},{"m":"Yolov10","e":32,"v":3.13},{"m":"Yolov10","e":33,"v":3.14},{"m":"Yolov10","e":34,"v":3.135},{"m":"Yolov10","e":35,"v":3.13},{"m":"Yolov10","e":36,"v":3.12},{"m":"Yolov10","e":37,"v":3.11},{"m":"Yolov10","e":38,"v":3.11},{"m":"Yolov10","e":39,"v":3.1},
{"m":"Yolov10","e":40,"v":3.1},{"m":"Yolov10","e":41,"v":3.09},{"m":"Yolov10","e":42,"v":3.09},{"m":"Yolov10","e":43,"v":3.085},{"m":"Yolov10","e":44,"v":3.08},{"m":"Yolov10","e":45,"v":3.085},{"m":"Yolov10","e":46,"v":3.08},{"m":"Yolov10","e":47,"v":3.075},{"m":"Yolov10","e":48,"v":3.07},{"m":"Yolov10","e":49,"v":3.065},
{"m":"Yolov10","e":50,"v":3.06},{"m":"Yolov10","e":51,"v":3.055},{"m":"Yolov10","e":52,"v":3.05},{"m":"Yolov10","e":53,"v":3.05},{"m":"Yolov10","e":54,"v":3.05},{"m":"Yolov10","e":55,"v":3.048},{"m":"Yolov10","e":56,"v":3.05},{"m":"Yolov10","e":57,"v":3.048},{"m":"Yolov10","e":58,"v":3.045},{"m":"Yolov10","e":59,"v":3.045},
{"m":"Yolov10","e":60,"v":3.04},{"m":"Yolov10","e":61,"v":3.04},{"m":"Yolov10","e":62,"v":3.038},{"m":"Yolov10","e":63,"v":3.036},{"m":"Yolov10","e":64,"v":3.035},{"m":"Yolov10","e":65,"v":3.033},{"m":"Yolov10","e":66,"v":3.032},{"m":"Yolov10","e":67,"v":3.03},{"m":"Yolov10","e":68,"v":3.03},{"m":"Yolov10","e":69,"v":3.028},
{"m":"Yolov10","e":70,"v":3.027},{"m":"Yolov10","e":71,"v":3.026},{"m":"Yolov10","e":72,"v":3.026},{"m":"Yolov10","e":73,"v":3.025},{"m":"Yolov10","e":74,"v":3.025},{"m":"Yolov10","e":75,"v":3.024},{"m":"Yolov10","e":76,"v":3.023},{"m":"Yolov10","e":77,"v":3.022},{"m":"Yolov10","e":78,"v":3.022},{"m":"Yolov10","e":79,"v":3.021},
{"m":"Yolov10","e":80,"v":3.02},{"m":"Yolov10","e":81,"v":3.02},{"m":"Yolov10","e":82,"v":3.019},{"m":"Yolov10","e":83,"v":3.018},{"m":"Yolov10","e":84,"v":3.018},{"m":"Yolov10","e":85,"v":3.017},{"m":"Yolov10","e":86,"v":3.016},{"m":"Yolov10","e":87,"v":3.015},{"m":"Yolov10","e":88,"v":3.014},{"m":"Yolov10","e":89,"v":3.013},
{"m":"Yolov10","e":90,"v":3.012},{"m":"Yolov10","e":91,"v":3.011},{"m":"Yolov10","e":92,"v":3.01},{"m":"Yolov10","e":93,"v":3.009},{"m":"Yolov10","e":94,"v":3.008},{"m":"Yolov10","e":95,"v":3.007},{"m":"Yolov10","e":96,"v":3.006},{"m":"Yolov10","e":97,"v":3.005},{"m":"Yolov10","e":98,"v":3.004},{"m":"Yolov10","e":99,"v":3.003},
{"m":"Yolov11","e":0,"v":2.39},{"m":"Yolov11","e":1,"v":1.83},{"m":"Yolov11","e":2,"v":1.87},{"m":"Yolov11","e":3,"v":1.8},{"m":"Yolov11","e":4,"v":1.78},{"m":"Yolov11","e":5,"v":1.75},{"m":"Yolov11","e":6,"v":1.73},{"m":"Yolov11","e":7,"v":1.71},{"m":"Yolov11","e":8,"v":1.735},{"m":"Yolov11","e":9,"v":1.72},
{"m":"Yolov11","e":10,"v":1.715},{"m":"Yolov11","e":11,"v":1.715},{"m":"Yolov11","e":12,"v":1.67},{"m":"Yolov11","e":13,"v":1.65},{"m":"Yolov11","e":14,"v":1.645},{"m":"Yolov11","e":15,"v":1.67},{"m":"Yolov11","e":16,"v":1.625},{"m":"Yolov11","e":17,"v":1.63},{"m":"Yolov11","e":18,"v":1.625},{"m":"Yolov11","e":19,"v":1.615},
{"m":"Yolov11","e":20,"v":1.605},{"m":"Yolov11","e":21,"v":1.6},{"m":"Yolov11","e":22,"v":1.595},{"m":"Yolov11","e":23,"v":1.59},{"m":"Yolov11","e":24,"v":1.59},{"m":"Yolov11","e":25,"v":1.585},{"m":"Yolov11","e":26,"v":1.58},{"m":"Yolov11","e":27,"v":1.57},{"m":"Yolov11","e":28,"v":1.565},{"m":"Yolov11","e":29,"v":1.57},
{"m":"Yolov11","e":30,"v":1.565},{"m":"Yolov11","e":31,"v":1.56},{"m":"Yolov11","e":32,"v":1.555},{"m":"Yolov11","e":33,"v":1.555},{"m":"Yolov11","e":34,"v":1.55},{"m":"Yolov11","e":35,"v":1.55},{"m":"Yolov11","e":36,"v":1.55},{"m":"Yolov11","e":37,"v":1.545},{"m":"Yolov11","e":38,"v":1.54},{"m":"Yolov11","e":39,"v":1.555},
{"m":"Yolov11","e":40,"v":1.545},{"m":"Yolov11","e":41,"v":1.54},{"m":"Yolov11","e":42,"v":1.535},{"m":"Yolov11","e":43,"v":1.535},{"m":"Yolov11","e":44,"v":1.53},{"m":"Yolov11","e":45,"v":1.535},{"m":"Yolov11","e":46,"v":1.535},{"m":"Yolov11","e":47,"v":1.53},{"m":"Yolov11","e":48,"v":1.53},{"m":"Yolov11","e":49,"v":1.525},
{"m":"Yolov11","e":50,"v":1.525},{"m":"Yolov11","e":51,"v":1.53},{"m":"Yolov11","e":52,"v":1.525},{"m":"Yolov11","e":53,"v":1.52},{"m":"Yolov11","e":54,"v":1.52},{"m":"Yolov11","e":55,"v":1.52},{"m":"Yolov11","e":56,"v":1.52},{"m":"Yolov11","e":57,"v":1.518},{"m":"Yolov11","e":58,"v":1.516},{"m":"Yolov11","e":59,"v":1.515},
{"m":"Yolov11","e":60,"v":1.514},{"m":"Yolov11","e":61,"v":1.513},{"m":"Yolov11","e":62,"v":1.512},{"m":"Yolov11","e":63,"v":1.512},{"m":"Yolov11","e":64,"v":1.511},{"m":"Yolov11","e":65,"v":1.51},{"m":"Yolov11","e":66,"v":1.51},{"m":"Yolov11","e":67,"v":1.509},{"m":"Yolov11","e":68,"v":1.508},{"m":"Yolov11","e":69,"v":1.508},
{"m":"Yolov11","e":70,"v":1.507},{"m":"Yolov11","e":71,"v":1.507},{"m":"Yolov11","e":72,"v":1.506},{"m":"Yolov11","e":73,"v":1.506},{"m":"Yolov11","e":74,"v":1.506},{"m":"Yolov11","e":75,"v":1.506},{"m":"Yolov11","e":76,"v":1.506},{"m":"Yolov11","e":77,"v":1.506},{"m":"Yolov11","e":78,"v":1.506},{"m":"Yolov11","e":79,"v":1.506},
{"m":"Yolov11","e":80,"v":1.506},{"m":"Yolov11","e":81,"v":1.506},{"m":"Yolov11","e":82,"v":1.506},{"m":"Yolov11","e":83,"v":1.506},{"m":"Yolov11","e":84,"v":1.506},{"m":"Yolov11","e":85,"v":1.506},{"m":"Yolov11","e":86,"v":1.506},{"m":"Yolov11","e":87,"v":1.506},{"m":"Yolov11","e":88,"v":1.506},{"m":"Yolov11","e":89,"v":1.506},
{"m":"Yolov11","e":90,"v":1.506},{"m":"Yolov11","e":91,"v":1.506},{"m":"Yolov11","e":92,"v":1.505},{"m":"Yolov11","e":93,"v":1.505},{"m":"Yolov11","e":94,"v":1.505},{"m":"Yolov11","e":95,"v":1.505},{"m":"Yolov11","e":96,"v":1.505},{"m":"Yolov11","e":97,"v":1.505},{"m":"Yolov11","e":98,"v":1.505},{"m":"Yolov11","e":99,"v":1.505}
]
},
"hconcat": [
{
  "width": 820, "height": 610,
  "data": {"name": "a"},
  "title": {"text": "(a)", "orient": "bottom", "frame": "group", "font": "Liberation Serif", "fontSize": 62, "fontWeight": "bold", "color": "#000", "offset": 37, "dx": -6},
  "mark": {"type": "line", "strokeWidth": 3, "clip": true},
  "encoding": {
    "x": {"field": "e", "type": "quantitative", "scale": {"domain": [-4.95, 103.95], "nice": false, "zero": false}, "axis": {"title": "Epoch", "values": [0, 20, 40, 60, 80, 100], "format": "d", "titlePadding": 10}},
    "y": {"field": "v", "type": "quantitative", "scale": {"domain": [1.242, 4.214], "nice": false, "zero": false}, "axis": {"title": "Loss", "values": [1.5, 2, 2.5, 3, 3.5, 4], "format": ".1f", "minExtent": 50, "maxExtent": 50, "titlePadding": 14}},
    "color": {"field": "m", "type": "nominal", "scale": {"domain": ["Yolov5", "Yolov8", "Yolov9", "Yolov10", "Yolov11"], "range": ["#1f77b4", "#ff7f0e", "#2ca02c", "#d62728", "#9467bd"]}, "legend": {"title": null, "orient": "top-right", "offset": 11}}
  }
},
{
  "width": 821, "height": 610,
  "data": {"name": "b"},
  "title": {"text": "(b)", "orient": "bottom", "frame": "group", "font": "Liberation Serif", "fontSize": 62, "fontWeight": "bold", "color": "#000", "offset": 37, "dx": -7},
  "mark": {"type": "line", "strokeWidth": 3, "clip": true},
  "encoding": {
    "x": {"field": "e", "type": "quantitative", "scale": {"domain": [-4.95, 103.95], "nice": false, "zero": false}, "axis": {"title": "Epoch", "values": [0, 20, 40, 60, 80, 100], "format": "d", "titlePadding": 10}},
    "y": {"field": "v", "type": "quantitative", "scale": {"domain": [1.31, 4.466], "nice": false, "zero": false}, "axis": {"title": "Loss", "values": [1.5, 2, 2.5, 3, 3.5, 4], "format": ".1f", "minExtent": 50, "maxExtent": 50, "titlePadding": 14}},
    "color": {"field": "m", "type": "nominal", "scale": {"domain": ["Yolov5", "Yolov8", "Yolov9", "Yolov10", "Yolov11"], "range": ["#1f77b4", "#ff7f0e", "#2ca02c", "#d62728", "#9467bd"]}, "legend": {"title": null, "orient": "top-right", "offset": 9}}
  }
}
]
}
